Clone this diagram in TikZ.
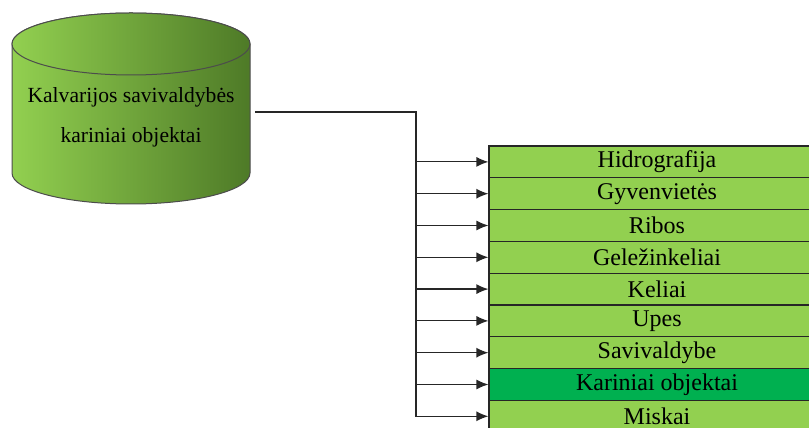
\documentclass[tikz,border=0pt]{standalone}
\usepackage{fontspec}
\setmainfont{Liberation Serif}
\usetikzlibrary{positioning, arrows.meta, shapes}
\definecolor{sviesi}{HTML}{92D050}
\definecolor{tamsi}{HTML}{00B050}
\definecolor{cilgal}{HTML}{4E7A27}

\begin{document}
\begin{tikzpicture}[x=1pt, y=1pt,
    sluoksnis/.style={rectangle, draw=black!85, line width=1.2pt, minimum width=336pt, minimum height=31.8pt, inner sep=0pt, font=\fontsize{24}{26}\selectfont},
    rodykle/.style={draw=black!85, line width=1.2pt, -{Latex[length=12pt, width=10pt]}},
    cilindras/.style={draw=black!70, line width=1pt, left color=sviesi, right color=cilgal}]
    \useasboundingbox (0,0) rectangle (809,428);
    \clip (0,0) rectangle (809,428);

    % Duomenu baze
    \path[cilindras] (12,384) -- (12,255) arc[start angle=180, end angle=360, x radius=119, y radius=31]
        -- (250,384) arc[start angle=0, end angle=180, x radius=119, y radius=31] -- cycle;
    \path[cilindras] (131,384) ellipse [x radius=119, y radius=31];
    \node[align=center, font=\fontsize{21.6}{40}\selectfont] (db) at (131,311) {Kalvarijos savivaldybės\\kariniai objektai};

    % Jungtis
    \coordinate (dbout) at (255,316);
    \coordinate (bus) at (416,11);
    \draw[draw=black!85, line width=1.2pt] (dbout) -| (bus);

    % Sluoksniai
    \foreach \pav/\spalva [count=\i] in {Hidrografija/sviesi, Gyvenvietės/sviesi, Ribos/sviesi, Geležinkeliai/sviesi, Keliai/sviesi, Upes/sviesi, Savivaldybe/sviesi, Kariniai objektai/tamsi, Miskai/sviesi} {
        \node[sluoksnis, fill=\spalva] (s\i) at (657, 297.9-31.8*\i) {\pav};
        \draw[rodykle] (bus |- s\i.west) -- (s\i.west);
    }
\end{tikzpicture}
\end{document}
